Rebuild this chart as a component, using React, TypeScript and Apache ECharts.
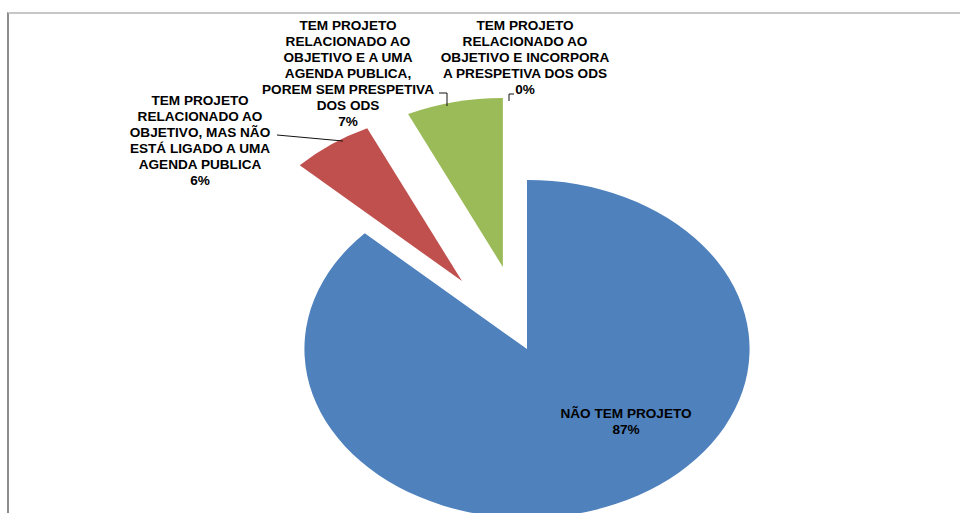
import React, { useEffect, useRef } from 'react';
import * as echarts from 'echarts';

// ---- data ----
const categories: string[] = [
  'NÃO TEM PROJETO',
  'TEM PROJETO\nRELACIONADO AO\nOBJETIVO, MAS NÃO\nESTÁ LIGADO A UMA\nAGENDA PUBLICA',
  'TEM PROJETO\nRELACIONADO AO\nOBJETIVO E A UMA\nAGENDA PUBLICA,\nPOREM SEM PRESPETIVA\nDOS ODS',
  'TEM PROJETO\nRELACIONADO AO\nOBJETIVO E INCORPORA\nA PRESPETIVA DOS ODS',
];
const values: number[] = [87, 6, 7, 0];
const exploded: boolean[] = [false, true, true, true];

// ---- styling / layout ----
const colors = ['#4F81BD', '#C0504D', '#9BBB59', '#8064A2'];
const STRETCH = 1.317; // the reference pie is an ellipse (stretched horizontally)
const W = 960;
const H = 513;
const CX = 527;
const CY = 349;
const R = 169;
const FONT = '"Liberation Sans", Arial, sans-serif';

// label anchors and leader lines, in page pixels
const labelAt: number[][] = [
  [626, 421],
  [200, 140],
  [348, 73],
  [525, 57],
];
const leaders: (number[][] | null)[] = [
  null,
  [[277, 135], [310, 138], [343, 141]],
  [[439, 93], [447, 93], [447, 106]],
  [[509, 101], [509, 94], [514, 94]],
];

export default function App() {
  const pieRef = useRef<HTMLDivElement>(null);
  const labelRef = useRef<HTMLDivElement>(null);

  useEffect(() => {
    if (!pieRef.current || !labelRef.current) return;

    // Layer 1: the (elliptical) pie itself, drawn in a horizontally stretched box
    const pie = echarts.init(pieRef.current, null, { renderer: 'svg' });
    pie.setOption({
      animation: false,
      series: [
        {
          type: 'pie',
          center: [CX / STRETCH, CY],
          radius: R,
          startAngle: 90,
          clockwise: true,
          selectedMode: 'multiple',
          selectedOffset: 84,
          emphasis: { disabled: true },
          itemStyle: { borderWidth: 0 },
          label: { show: false },
          labelLine: { show: false },
          data: values.map((v, i) => ({
            value: v,
            name: categories[i],
            selected: exploded[i],
            itemStyle: { color: colors[i] },
          })),
        },
      ],
    });

    // Layer 2: the data labels, unstretched
    const labels = echarts.init(labelRef.current, null, { renderer: 'svg' });
    labels.setOption({
      animation: false,
      series: [
        {
          type: 'pie',
          center: [CX, CY],
          radius: R,
          startAngle: 90,
          clockwise: true,
          silent: true,
          avoidLabelOverlap: false,
          emphasis: { disabled: true },
          itemStyle: { color: 'rgba(0,0,0,0)', borderWidth: 0 },
          label: {
            show: true,
            position: 'outside',
            formatter: (p: any) => `${p.name}\n${Math.round(p.percent)}%`,
            color: '#000',
            fontFamily: FONT,
            fontWeight: 'bold',
            fontSize: 13.6,
            lineHeight: 16,
            align: 'center',
          },
          labelLine: { show: true, lineStyle: { color: '#111', width: 1 } },
          labelLayout: (p: any) => {
            const i = p.dataIndex;
            const pos = labelAt[i];
            const res: any = {
              x: pos[0],
              y: pos[1],
              align: 'center',
              verticalAlign: 'middle',
            };
            const l = leaders[i];
            if (l) res.labelLinePoints = l;
            return res;
          },
          data: values.map((v, i) => ({
            value: v,
            name: categories[i],
            labelLine: { show: i !== 0 },
          })),
        },
      ],
    });

    return () => {
      pie.dispose();
      labels.dispose();
    };
  }, []);

  return (
    <div
      style={{
        position: 'fixed',
        left: 0,
        top: 0,
        width: W,
        height: H,
        overflow: 'hidden',
        background: '#fff',
      }}
    >
      <div
        style={{
          position: 'absolute',
          left: 7,
          top: 12,
          width: W,
          height: H,
          borderTop: '2px solid #c6c6c6',
          borderLeft: '2px solid #8c8c8c',
        }}
      />
      <div
        ref={pieRef}
        style={{
          position: 'absolute',
          left: 0,
          top: 0,
          width: W / STRETCH,
          height: H,
          transform: `scaleX(${STRETCH})`,
          transformOrigin: '0 0',
        }}
      />
      <div
        ref={labelRef}
        style={{ position: 'absolute', left: 0, top: 0, width: W, height: H }}
      />
    </div>
  );
}
